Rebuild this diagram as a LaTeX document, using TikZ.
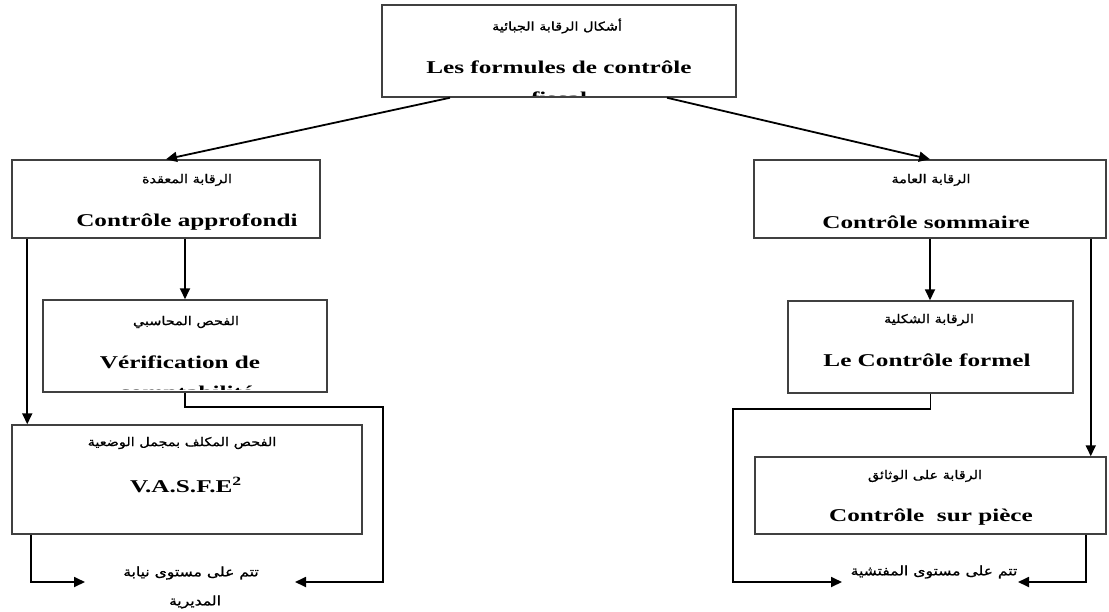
\documentclass[tikz,border=0pt]{standalone}
\usepackage{fontspec}
\setmainfont{Liberation Serif}
\newfontfamily\frfont[FakeStretch=1.4]{Liberation Serif}
\newfontfamily\arfont[Script=Arabic,FakeStretch=1.2,FakeBold=1]{DejaVu Sans}
\TeXXeTstate=1
\usetikzlibrary{arrows.meta}
\tikzset{
  box/.style={draw=black!75, line width=1.5pt},
  fr/.style={font=\frfont\bfseries\fontsize{18}{22}\selectfont, inner sep=0pt},
  ar/.style={font=\arfont\fontsize{12}{14}\selectfont, inner sep=0pt},
  arlow/.style={ar, font=\arfont\fontsize{13}{15}\selectfont},
  arr/.style={-{Triangle[length=11pt,width=10pt]}, line width=1.8pt}
}
\begin{document}
\begin{tikzpicture}[x=1pt,y=-1pt]
  \useasboundingbox (0,0) rectangle (1109,611);
  \node[box, minimum width=354pt, minimum height=92pt] (forms) at (559,51) {};
  \node[box, minimum width=308pt, minimum height=78pt] (approf) at (166,199) {};
  \node[box, minimum width=352pt, minimum height=78pt] (somm) at (930,199) {};
  \node[box, minimum width=284pt, minimum height=92pt] (verif) at (185,346) {};
  \node[box, minimum width=285pt, minimum height=92pt] (formel) at (930.5,347) {};
  \node[box, minimum width=350pt, minimum height=109pt] (vasfe) at (187,479.5) {};
  \node[box, minimum width=351pt, minimum height=77pt] (piece) at (930.5,495.5) {};

  \node[ar] (formsar) at (557,26) {\beginR أشكال الرقابة الجبائية\endR};
  \node[fr, anchor=base] (formsfr) at (559,73) {Les formules de contrôle};
  \begin{scope}
    \clip (forms.north west) rectangle ([yshift=2.5pt]forms.south east);
    \node[fr, anchor=base] (formsfr2) at (559,104) {fiscal};
  \end{scope}
  \node[ar] (approfar) at (187,180) {\beginR الرقابة المعقدة\endR};
  \node[fr] (approffr) at (187,222) {Contrôle approfondi};
  \node[ar] (sommar) at (931,180) {\beginR الرقابة العامة\endR};
  \node[fr] (sommfr) at (926,222) {Contrôle sommaire};
  \node[ar] (verifar) at (186,322) {\beginR الفحص المحاسبي\endR};
  \node[fr, anchor=base] (veriffr) at (180,368) {Vérification de};
  \begin{scope}
    \clip (verif.north west) rectangle ([yshift=3pt]verif.south east);
    \node[fr, anchor=base] (veriffr2) at (186,398) {comptabilité};
  \end{scope}
  \node[ar] (formelar) at (929,320) {\beginR الرقابة الشكلية\endR};
  \node[fr] (formelfr) at (927,360) {Le Contrôle formel};
  \node[ar] (vasfear) at (182,443) {\beginR الفحص المكلف بمجمل الوضعية\endR};
  \node[fr] (vasfefr) at (186,485) {V.A.S.F.E\textsuperscript{2}};
  \node[ar] (piecear) at (925,476) {\beginR الرقابة على الوثائق\endR};
  \node[fr] (piecefr) at (931,517) {Contrôle\ \ sur pièce};
  \node[arlow] (dirar) at (191,573) {\beginR تتم على مستوى نيابة\endR};
  \node[arlow] (dirar2) at (195,602) {\beginR المديرية\endR};
  \node[arlow] (inspar) at (934,572) {\beginR تتم على مستوى المفتشية\endR};

  \coordinate (dirL) at (85,582);
  \coordinate (dirR) at (295,582);
  \coordinate (turnL) at (383,407);
  \coordinate (inspL) at (842,582);
  \coordinate (inspR) at (1018,582);
  \coordinate (turnR) at (733,409);

  \draw[arr] ([xshift=-109pt]forms.south) -- (approf.north);
  \draw[arr] ([xshift=108pt]forms.south) -- (somm.north);
  \draw[arr] ([xshift=16pt]approf.south west) -- ([xshift=16pt]vasfe.north west);
  \draw[arr] (approf.south -| verif.north) -- (verif.north);
  \draw[arr] (somm.south) -- (somm.south |- formel.north);
  \draw[arr] ([xshift=-16pt]somm.south east) -- ([xshift=-16pt]somm.south east |- piece.north);
  \draw[arr] ([xshift=20pt]vasfe.south west) |- (dirL);
  \draw[arr] (verif.south) |- (turnL) |- (dirR);
  \draw[arr] (formel.south) |- (turnR) |- (inspL);
  \draw[arr] ([xshift=-21pt]piece.south east) |- (inspR);
\end{tikzpicture}
\end{document}
